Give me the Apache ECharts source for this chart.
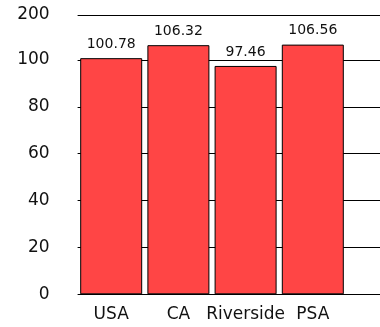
<!DOCTYPE html>
<html>
<head>
<meta charset="utf-8">
<script src="https://cdn.jsdelivr.net/npm/echarts@6/dist/echarts.min.js"></script>
<style>
  html, body { margin: 0; padding: 0; background: #fff; }
  #chart { width: 380px; height: 327px; }
</style>
</head>
<body>
<div id="chart"></div>
<script>
// Regional index values
const categories = ['USA', 'CA', 'Riverside', 'PSA'];
const values = [100.78, 106.32, 97.46, 106.56];
// Labels for the y ticks, bottom to top (the top tick marks the 200 level)
const yTickLabels = ['0', '20', '40', '60', '80', '100', '200'];

const FONT = 'DejaVu Sans';

const chart = echarts.init(document.getElementById('chart'), null, { renderer: 'canvas' });

chart.setOption({
  animation: false,
  grid: { left: 77.6, right: 0, top: 15, bottom: 32.7, containLabel: false },
  xAxis: {
    type: 'value',
    min: -0.5,
    max: 4,
    interval: 0.5,
    axisLine: { show: false },
    axisTick: { show: false },
    splitLine: { show: false },
    axisLabel: {
      margin: 12,
      fontFamily: FONT,
      fontSize: 17,
      color: '#111',
      showMinLabel: false,
      showMaxLabel: false,
      formatter: function (v) {
        return Number.isInteger(v) && v >= 0 && v < categories.length ? categories[v] : '';
      }
    }
  },
  yAxis: {
    type: 'value',
    min: 0,
    max: 119.2,
    interval: 20,
    axisLine: { show: false },
    axisTick: { show: true, inside: false, length: 26, lineStyle: { color: '#000', width: 1 } },
    splitLine: { show: true, lineStyle: { color: '#000', width: 1 } },
    axisLabel: {
      margin: 28,
      fontFamily: FONT,
      fontSize: 17,
      color: '#111',
      showMaxLabel: true,
      formatter: function (v, i) { return yTickLabels[i]; }
    }
  },
  series: [{
    type: 'bar',
    barWidth: 62,
    data: values.map((v, i) => [i, v]),
    itemStyle: { color: '#ff4545', borderColor: '#000', borderWidth: 1 },
    label: {
      show: true,
      position: 'top',
      distance: 7,
      fontFamily: FONT,
      fontSize: 14,
      color: '#111',
      formatter: p => p.value[1].toFixed(2)
    }
  }]
});
</script>
</body>
</html>
